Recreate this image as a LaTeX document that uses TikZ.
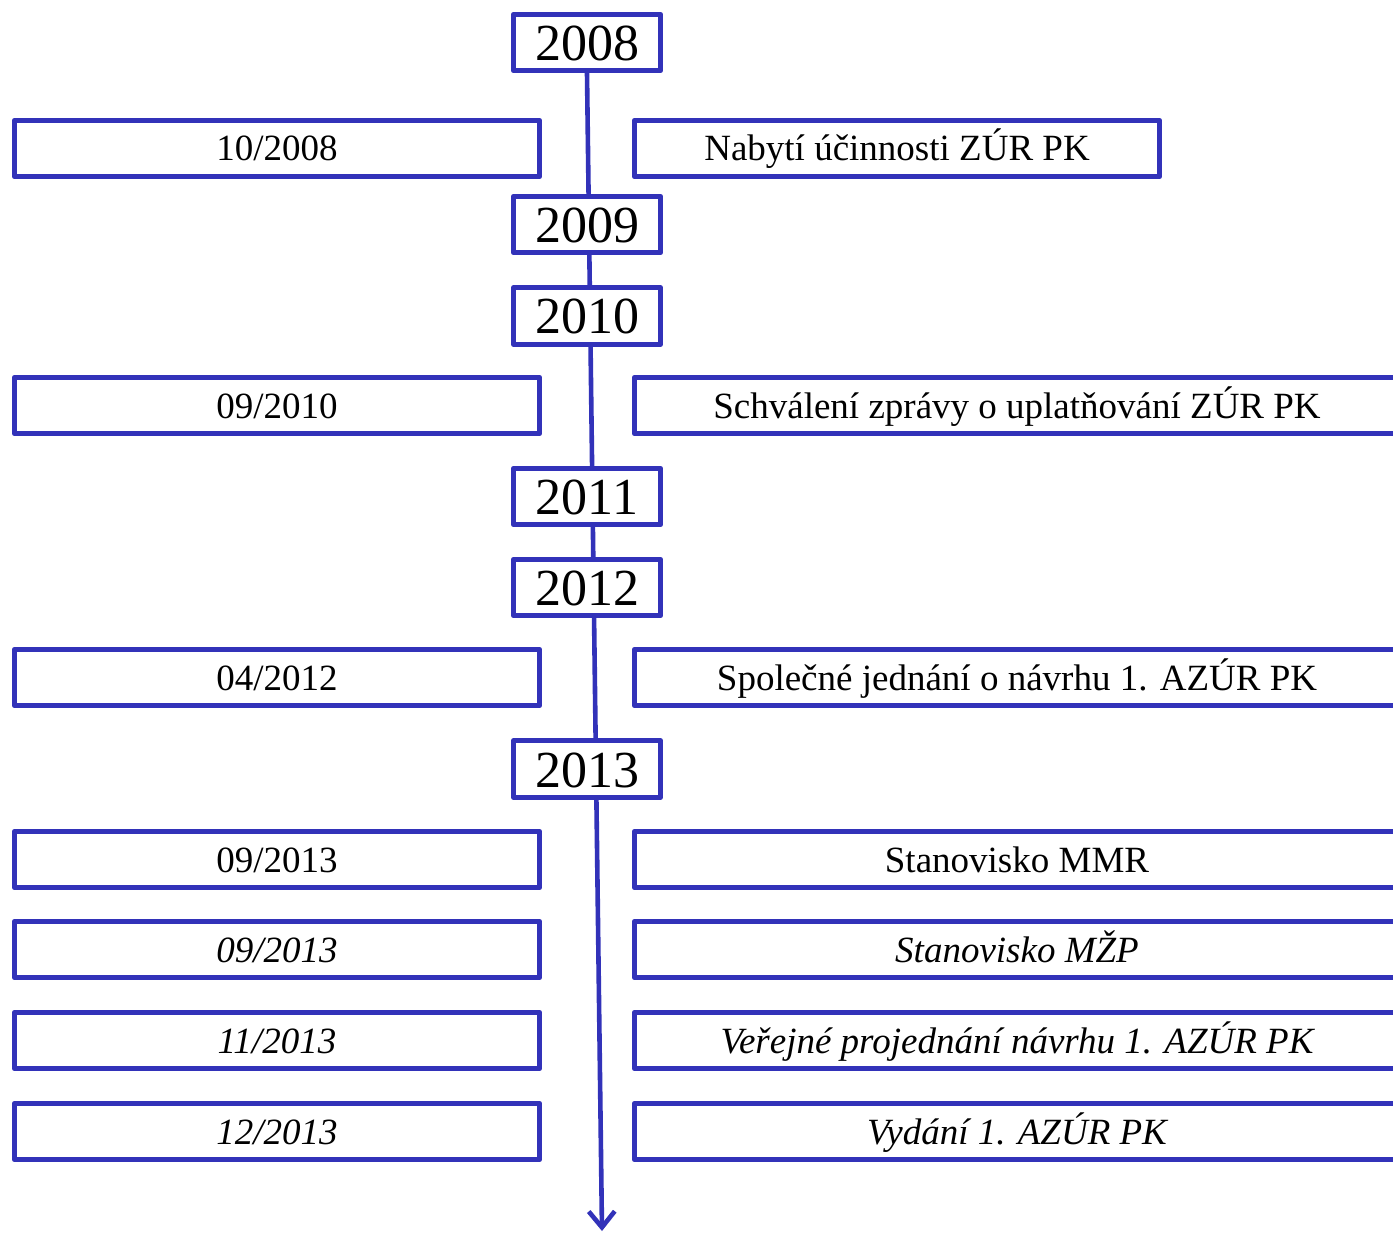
\documentclass[tikz,border=0pt]{standalone}
\usepackage{fontspec}
\setmainfont{Liberation Serif}
\usetikzlibrary{arrows.meta,backgrounds}
\definecolor{tlblue}{RGB}{50,50,185}
\tikzset{
  box/.style={draw=tlblue, line width=4.6pt, line join=round, fill=white, inner sep=0pt,
    minimum height=56.5pt, text height=25pt, text depth=0pt,
    font=\fontsize{37}{40}\selectfont},
  leftbox/.style={box, minimum width=525.5pt},
  rightbox/.style={box, minimum width=765.5pt},
  firstright/.style={box, minimum width=525.5pt},
  yearbox/.style={box, minimum width=147.5pt, text height=36pt,
    font=\fontsize{52}{56}\selectfont},
  timeline/.style={draw=tlblue, line width=4.6pt, -{Straight Barb[length=16pt,width=26pt,line width=4.6pt]}}
}
\begin{document}
\begin{tikzpicture}[x=1pt,y=-1pt]
\useasboundingbox (0,0) rectangle (1393,1233);
\clip (0,0) rectangle (1393,1233);
% years
\node[yearbox] (y2008) at (587,42.5) {2008};
\node[yearbox] (y2009) at (587,224.5) {2009};
\node[yearbox] (y2010) at (587,316) {2010};
\node[yearbox] (y2011) at (587,496.5) {2011};
\node[yearbox] (y2012) at (587,587.5) {2012};
\node[yearbox] (y2013) at (587,769) {2013};
% left dates
\node[leftbox] (d1) at (277,148.5) {10/2008};
\node[leftbox] (d2) at (277,405.5) {09/2010};
\node[leftbox] (d3) at (277,677.5) {04/2012};
\node[leftbox] (d4) at (277,859.5) {09/2013};
\node[leftbox] (d5) at (277,949.5) {\itshape 09/2013};
\node[leftbox] (d6) at (277,1040.5) {\itshape 11/2013};
\node[leftbox] (d7) at (277,1131.5) {\itshape 12/2013};
% right events
\node[firstright] (e1) at (897,148.5) {Nabytí účinnosti ZÚR PK};
\node[rightbox] (e2) at (1017,405.5) {Schválení zprávy o uplatňování ZÚR PK};
\node[rightbox] (e3) at (1017,677.5) {Společné jednání o návrhu 1. AZÚR PK};
\node[rightbox] (e4) at (1017,859.5) {Stanovisko MMR};
\node[rightbox] (e5) at (1017,949.5) {\itshape Stanovisko MŽP};
\node[rightbox] (e6) at (1017,1040.5) {\itshape Veřejné projednání návrhu 1. AZÚR PK};
\node[rightbox] (e7) at (1017,1131.5) {\itshape Vydání 1. AZÚR PK};
\coordinate (tip) at (602,1231);
\begin{scope}[on background layer]
\draw[timeline] (y2008.south) -- (tip);
\end{scope}
\end{tikzpicture}
\end{document}
